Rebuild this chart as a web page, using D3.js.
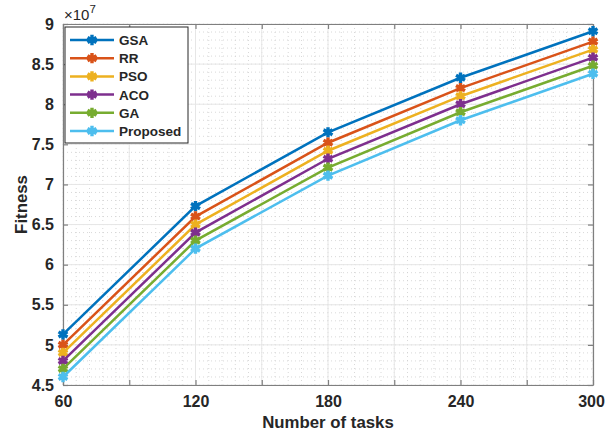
<!DOCTYPE html>
<html>
<head>
<meta charset="utf-8">
<script src="https://cdn.jsdelivr.net/npm/d3@7"></script>
<style>
body { margin: 0; background: #fff; }
text { font-family: Arial, "Liberation Sans", sans-serif; font-weight: bold; fill: #262626; }
</style>
</head>
<body>
<svg width="605" height="436"></svg>
<script>
// data (values in units of 1e7)
var tasks = [60, 120, 180, 240, 300];
var seriesNames = ['GSA', 'RR', 'PSO', 'ACO', 'GA', 'Proposed'];
var gsa      = [5.13, 6.73, 7.65, 8.33, 8.91];
var rr       = [5.00, 6.60, 7.52, 8.20, 8.78];
var pso      = [4.90, 6.50, 7.42, 8.10, 8.68];
var aco      = [4.80, 6.40, 7.32, 8.00, 8.58];
var ga       = [4.70, 6.30, 7.21, 7.90, 8.48];
var proposed = [4.60, 6.20, 7.11, 7.80, 8.38];
var yTicks = [4.5, 5, 5.5, 6, 6.5, 7, 7.5, 8, 8.5, 9];
var xLabels = [60, 120, 180, 240, 300];
var colors = ['#0072BD', '#D95319', '#EDB120', '#7E2F8E', '#77AC30', '#4DBEEE'];

var allSeries = [gsa, rr, pso, aco, ga, proposed];

function draw(){
	var svg = d3.select('svg');
	var pl = 63, pr = 593, pt = 24, pb = 385;

	var x = d3.scaleLinear().domain([60, 300]).range([pl, pr]);
	var y = d3.scaleLinear().domain([4.5, 9]).range([pb, pt]);

	// minor grid
	var g = svg.append('g');
	d3.range(60, 301, 6).forEach(function(v){
		g.append('line').attr('x1', x(v)).attr('x2', x(v)).attr('y1', pt).attr('y2', pb)
			.attr('stroke', '#cfcfcf').attr('stroke-width', 0.8).attr('stroke-dasharray', '1,3');
	});
	d3.range(45, 91, 1).forEach(function(v){
		g.append('line').attr('x1', pl).attr('x2', pr).attr('y1', y(v/10)).attr('y2', y(v/10))
			.attr('stroke', '#cfcfcf').attr('stroke-width', 0.8).attr('stroke-dasharray', '1,3');
	});
	// major grid
	d3.range(60, 301, 30).forEach(function(v){
		g.append('line').attr('x1', x(v)).attr('x2', x(v)).attr('y1', pt).attr('y2', pb)
			.attr('stroke', '#e6e6e6').attr('stroke-width', 1);
	});
	yTicks.forEach(function(v){
		g.append('line').attr('x1', pl).attr('x2', pr).attr('y1', y(v)).attr('y2', y(v))
			.attr('stroke', '#e6e6e6').attr('stroke-width', 1);
	});

	// axes
	var xAxis = d3.axisBottom(x).tickValues(d3.range(60, 301, 30)).tickSizeInner(-5).tickSizeOuter(0)
		.tickFormat(function(d){ return xLabels.indexOf(d) >= 0 ? d : ''; });
	var xg = svg.append('g').attr('transform', 'translate(0,' + pb + ')').call(xAxis);
	xg.selectAll('text').attr('y', 22).attr('dy', 0).style('font-size', '16px')
		.attr('x', function(d){ return d === 300 ? -2 : 0; });

	var xTop = d3.axisTop(x).tickValues(d3.range(60, 301, 30)).tickSizeInner(-5).tickSizeOuter(0).tickFormat('');
	svg.append('g').attr('transform', 'translate(0,' + pt + ')').call(xTop);

	var yAxis = d3.axisLeft(y).tickValues(yTicks).tickSizeInner(-5).tickSizeOuter(0)
		.tickFormat(function(d){ return d; });
	var yg = svg.append('g').attr('transform', 'translate(' + pl + ',0)').call(yAxis);
	yg.selectAll('text').attr('x', -9).style('font-size', '16px');

	var yRight = d3.axisRight(y).tickValues(yTicks).tickSizeInner(-5).tickSizeOuter(0).tickFormat('');
	svg.append('g').attr('transform', 'translate(' + pr + ',0)').call(yRight);

	svg.selectAll('.domain, .tick line').attr('stroke', '#7f7f7f').attr('stroke-width', 1.2);
	svg.selectAll('.tick text').style('fill', '#262626').style('font-family', 'Arial, "Liberation Sans", sans-serif')
		.style('font-weight', 'bold');

	// exponent
	var ex = svg.append('text').attr('x', 64).attr('y', 20).style('font-size', '15px').style('font-weight', 'normal');
	ex.append('tspan').text('\u00d710');
	ex.append('tspan').attr('dy', -7).style('font-size', '11.5px').text('7');

	// axis labels
	svg.append('text').attr('x', (pl + pr) / 2).attr('y', 428).attr('text-anchor', 'middle')
		.style('font-size', '16.8px').text('Number of tasks');
	svg.append('text').attr('transform', 'translate(27,' + ((pt + pb) / 2) + ') rotate(-90)')
		.attr('text-anchor', 'middle').style('font-size', '16.8px').text('Fitness');

	// lines
	var line = d3.line().x(function(d, i){ return x(tasks[i]); }).y(function(d){ return y(d); });
	var star = d3.symbol().type(d3.symbolAsterisk).size(75);

	allSeries.forEach(function(s, k){
		svg.append('path').datum(s).attr('d', line).attr('fill', 'none')
			.attr('stroke', colors[k]).attr('stroke-width', 2.5);
		svg.selectAll('.m' + k).data(s).enter().append('path').attr('class', 'm' + k)
			.attr('transform', function(d, i){ return 'translate(' + x(tasks[i]) + ',' + y(d) + ')'; })
			.attr('d', star).attr('fill', 'none').attr('stroke', colors[k]).attr('stroke-width', 3.4);
	});

	// legend
	var lg = svg.append('g');
	lg.append('rect').attr('x', 65).attr('y', 27).attr('width', 123).attr('height', 116)
		.attr('fill', '#fff').attr('stroke', '#262626').attr('stroke-width', 1);
	seriesNames.forEach(function(n, k){
		var ly = 40 + k * 18.2;
		lg.append('line').attr('x1', 70).attr('x2', 114).attr('y1', ly).attr('y2', ly)
			.attr('stroke', colors[k]).attr('stroke-width', 2.5);
		lg.append('path').attr('transform', 'translate(92,' + ly + ')').attr('d', star)
			.attr('fill', 'none').attr('stroke', colors[k]).attr('stroke-width', 3.4);
		lg.append('text').attr('x', 119).attr('y', ly + 5).style('font-size', '13.5px').text(n);
	});
}

draw();
</script>
</body>
</html>
